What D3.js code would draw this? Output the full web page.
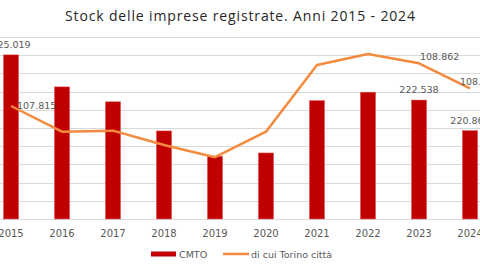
<!DOCTYPE html>
<html>
<head>
<meta charset="utf-8">
<script src="https://cdn.jsdelivr.net/npm/d3@7"></script>
<style>
body { margin: 0; background: #fff; }
svg { display: block; }
</style>
</head>
<body>
<div></div>
<script>
var width = 480;
var height = 269;

var years = ["2015", "2016", "2017", "2018", "2019", "2020", "2021", "2022", "2023", "2024"];
// stock imprese CMTO (migliaia)
var cmto = [225.019, 223.26, 222.44, 220.84, 219.45, 219.63, 222.51, 222.97, 222.538, 220.861];
// di cui Torino città (migliaia)
var torino = [107.815, 107.185, 107.21, 106.86, 106.56, 107.185, 108.82, 109.09, 108.862, 108.25];
var cmtoLabels = ["225.019", "", "", "", "", "", "", "", "222.538", "220.861"];
var torinoLabels = ["107.815", "", "", "", "", "", "", "", "108.862", "108.250"];
var gridTicks = d3.range(216, 227, 1);

var svg = d3.select("div")
	.append("svg")
	.attr("width", width)
	.attr("height", height);

var x = d3.scaleBand()
	.domain(years)
	.range([-14.5, 495.5])
	.paddingInner(0.7)
	.paddingOuter(0.35);

var y = d3.scaleLinear()
	.domain([216, 226])
	.range([219, 37]);

var y2 = d3.scaleLinear()
	.domain([105.044, 109.507])
	.range([219, 37]);

var cx = function(d) { return x(d) + x.bandwidth() / 2; };

// title
svg.append("text")
	.attr("x", 240)
	.attr("y", 21)
	.attr("text-anchor", "middle")
	.attr("textLength", 350)
	.attr("lengthAdjust", "spacing")
	.style("font-family", "Open Sans")
	.style("font-size", "14px")
	.style("fill", "#262626")
	.text("Stock delle imprese registrate. Anni 2015 - 2024");

// gridlines
svg.append("g")
	.selectAll("line")
	.data(gridTicks)
	.enter().append("line")
	.attr("x1", 0)
	.attr("x2", width)
	.attr("y1", function(d) { return Math.round(y(d)) + 0.5; })
	.attr("y2", function(d) { return Math.round(y(d)) + 0.5; })
	.attr("stroke", "#d9d9d9")
	.attr("stroke-width", 1);

// bars
svg.append("g")
	.selectAll("rect")
	.data(cmto)
	.enter().append("rect")
	.attr("x", function(d, i) { return x(years[i]); })
	.attr("y", function(d) { return y(d); })
	.attr("width", x.bandwidth())
	.attr("height", function(d) { return y(216) - y(d); })
	.attr("fill", "#c00000")
	.attr("stroke", "#e86a6a")
	.attr("stroke-width", 0.5);

// line
var line = d3.line()
	.x(function(d, i) { return cx(years[i]); })
	.y(function(d) { return y2(d); });

svg.append("path")
	.datum(torino)
	.attr("d", line)
	.attr("fill", "none")
	.attr("stroke", "#f58a3e")
	.attr("stroke-width", 2.5)
	.attr("stroke-linejoin", "round");

var labelFont = "DejaVu Sans";

// bar labels
svg.append("g")
	.selectAll("text")
	.data(cmto)
	.enter().append("text")
	.attr("x", function(d, i) { return cx(years[i]); })
	.attr("y", function(d) { return y(d) - 7; })
	.attr("text-anchor", "middle")
	.style("font-family", labelFont)
	.style("font-size", "9.5px")
	.style("fill", "#595959")
	.text(function(d, i) { return cmtoLabels[i]; });

// line labels
svg.append("g")
	.selectAll("text")
	.data(torino)
	.enter().append("text")
	.attr("x", function(d, i) {
		if (i == 0) return cx(years[i]) + 6;
		if (i == 9) return cx(years[i]) - 10;
		return cx(years[i]) + 1;
	})
	.attr("y", function(d, i) { return y2(d) + (i == 0 ? 3.5 : -3); })
	.style("font-family", labelFont)
	.style("font-size", "9.5px")
	.style("fill", "#595959")
	.text(function(d, i) { return torinoLabels[i]; });

// x labels
svg.append("g")
	.selectAll("text")
	.data(years)
	.enter().append("text")
	.attr("x", function(d) { return cx(d); })
	.attr("y", 237)
	.attr("text-anchor", "middle")
	.style("font-family", labelFont)
	.style("font-size", "10px")
	.style("fill", "#595959")
	.text(function(d) { return d; });

// legend
var legend = svg.append("g");
legend.append("rect")
	.attr("x", 151)
	.attr("y", 251.5)
	.attr("width", 25)
	.attr("height", 5)
	.attr("fill", "#c00000");
legend.append("text")
	.attr("x", 179)
	.attr("y", 257.5)
	.style("font-family", labelFont)
	.style("font-size", "9.5px")
	.style("fill", "#595959")
	.text("CMTO");
legend.append("line")
	.attr("x1", 223)
	.attr("x2", 249)
	.attr("y1", 254)
	.attr("y2", 254)
	.attr("stroke", "#f58a3e")
	.attr("stroke-width", 2.5);
legend.append("text")
	.attr("x", 251)
	.attr("y", 257.5)
	.style("font-family", labelFont)
	.style("font-size", "9.5px")
	.style("fill", "#595959")
	.text("di cui Torino città");
</script>
</body>
</html>
